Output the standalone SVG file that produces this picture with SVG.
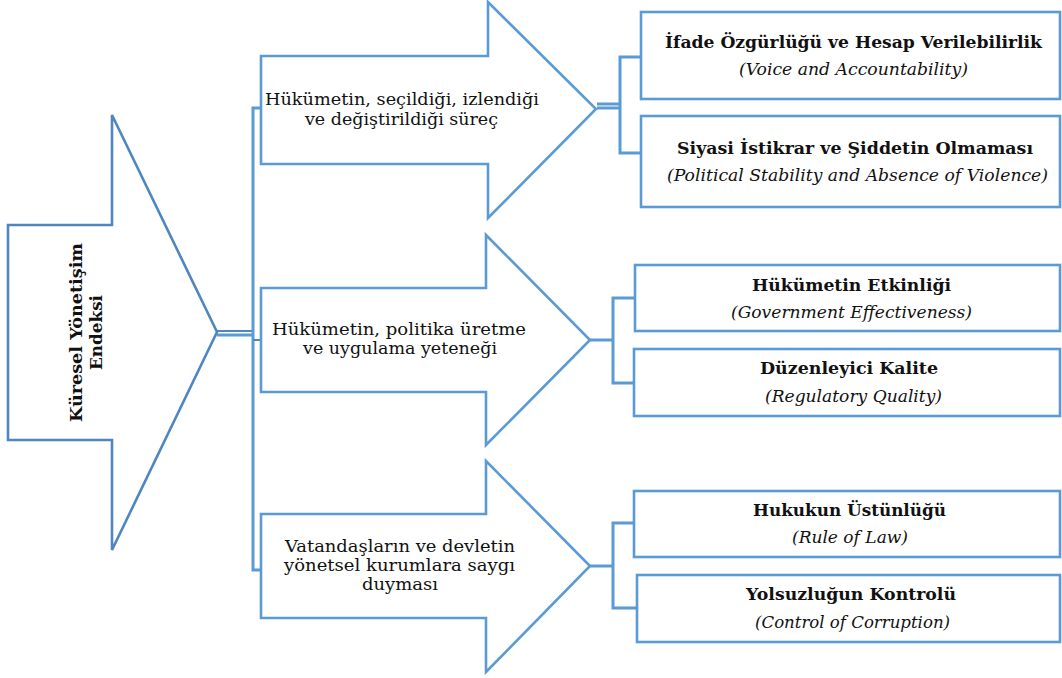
<svg xmlns="http://www.w3.org/2000/svg" width="1062" height="678" viewBox="0 0 1062 678">
<style>
.shape{fill:#fff;stroke:#5B9BD5;stroke-width:2.6}
.main{fill:#fff;stroke:#4F86C0;stroke-width:2.6}
.con{fill:none;stroke:#5B9BD5;stroke-width:3}
.con2{fill:none;stroke:#4F86C0;stroke-width:2}
.t{font-family:"DejaVu Serif","Liberation Serif",serif;font-size:17px;fill:#111}
.b{font-family:"DejaVu Serif","Liberation Serif",serif;font-size:16px;font-weight:bold;fill:#111}
.i{font-family:"DejaVu Serif","Liberation Serif",serif;font-size:16px;font-style:italic;fill:#111}
.k{font-family:"DejaVu Serif","Liberation Serif",serif;font-size:17px;font-weight:bold;fill:#111}
</style>
<rect width="1062" height="678" fill="#fff"/>
<g id="connectors">
<line class="con2" x1="217" y1="331" x2="253" y2="331"/>
<line class="con" x1="217" y1="335" x2="253" y2="335"/>
<polyline class="con" points="261,108 253,108 253,570 261,570"/>
<line class="con2" x1="253" y1="340" x2="261" y2="340"/>
<line class="con" x1="597" y1="104" x2="620" y2="104"/>
<line class="con" x1="597" y1="108" x2="620" y2="108"/>
<polyline class="con" points="641,57 620,57 620,153 641,153"/>
<line class="con" x1="590" y1="340" x2="613" y2="340"/>
<polyline class="con" points="635,298 613,298 613,383 634,383"/>
<line class="con" x1="590" y1="566" x2="613" y2="566"/>
<polyline class="con" points="634,523 613,523 613,608 637,608"/>
</g>
<g id="kye">
<polygon class="main" points="8,225 112,225 112,115 217,332 112,550 112,440 8,440"/>
<text class="k" transform="translate(82,422) rotate(-90)" textLength="179" lengthAdjust="spacingAndGlyphs">Küresel Yönetişim</text>
<text class="k" transform="translate(102,370) rotate(-90)" textLength="75" lengthAdjust="spacingAndGlyphs">Endeksi</text>
</g>
<g id="arrow1">
<polygon class="shape" points="261,56 488,56 488,2 596,109 488,218 488,164 261,164"/>
<text class="t" x="265" y="105" textLength="274" lengthAdjust="spacingAndGlyphs">Hükümetin, seçildiği, izlendiği</text>
<text class="t" x="305" y="125" textLength="193" lengthAdjust="spacingAndGlyphs">ve değiştirildiği süreç</text>
</g>
<g id="arrow2">
<polygon class="shape" points="261,288 486,288 486,235 590,340 486,445 486,392 261,392"/>
<text class="t" x="272" y="335" textLength="254" lengthAdjust="spacingAndGlyphs">Hükümetin, politika üretme</text>
<text class="t" x="303" y="354" textLength="194" lengthAdjust="spacingAndGlyphs">ve uygulama yeteneği</text>
</g>
<g id="arrow3">
<polygon class="shape" points="261,514 486,514 486,461 590,566 486,672 486,618 261,618"/>
<text class="t" x="285" y="552" textLength="230" lengthAdjust="spacingAndGlyphs">Vatandaşların ve devletin</text>
<text class="t" x="284" y="571" textLength="231" lengthAdjust="spacingAndGlyphs">yönetsel kurumlara saygı</text>
<text class="t" x="362" y="590" textLength="76" lengthAdjust="spacingAndGlyphs">duyması</text>
</g>
<g id="box1">
<rect class="shape" x="641" y="12" width="419" height="87"/>
<text class="b" x="665" y="48" textLength="377" lengthAdjust="spacingAndGlyphs">İfade Özgürlüğü ve Hesap Verilebilirlik</text>
<text class="i" x="739" y="75" textLength="229" lengthAdjust="spacingAndGlyphs">(Voice and Accountability)</text>
</g>
<g id="box2">
<rect class="shape" x="641" y="116" width="419" height="91"/>
<text class="b" x="677" y="154" textLength="356" lengthAdjust="spacingAndGlyphs">Siyasi İstikrar ve Şiddetin Olmaması</text>
<text class="i" x="667" y="181" textLength="381" lengthAdjust="spacingAndGlyphs">(Political Stability and Absence of Violence)</text>
</g>
<g id="box3">
<rect class="shape" x="635" y="265" width="425" height="66"/>
<text class="b" x="752" y="291" textLength="199" lengthAdjust="spacingAndGlyphs">Hükümetin Etkinliği</text>
<text class="i" x="731" y="318" textLength="241" lengthAdjust="spacingAndGlyphs">(Government Effectiveness)</text>
</g>
<g id="box4">
<rect class="shape" x="634" y="349" width="426" height="67"/>
<text class="b" x="760" y="374" textLength="178" lengthAdjust="spacingAndGlyphs">Düzenleyici Kalite</text>
<text class="i" x="765" y="402" textLength="177" lengthAdjust="spacingAndGlyphs">(Regulatory Quality)</text>
</g>
<g id="box5">
<rect class="shape" x="634" y="491" width="426" height="66"/>
<text class="b" x="753" y="516" textLength="193" lengthAdjust="spacingAndGlyphs">Hukukun Üstünlüğü</text>
<text class="i" x="792" y="543" textLength="116" lengthAdjust="spacingAndGlyphs">(Rule of Law)</text>
</g>
<g id="box6">
<rect class="shape" x="637" y="575" width="423" height="67"/>
<text class="b" x="746" y="600" textLength="210" lengthAdjust="spacingAndGlyphs">Yolsuzluğun Kontrolü</text>
<text class="i" x="755" y="628" textLength="195" lengthAdjust="spacingAndGlyphs">(Control of Corruption)</text>
</g>
</svg>
